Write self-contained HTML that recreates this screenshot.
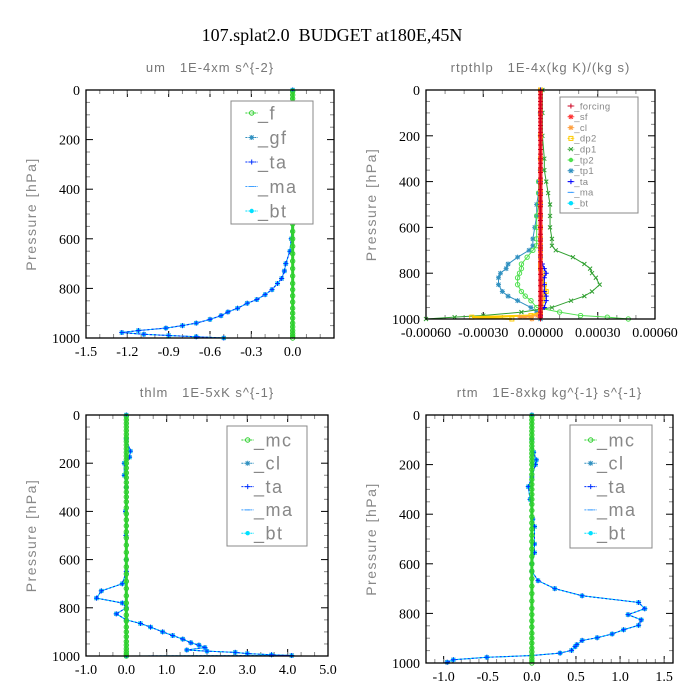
<!DOCTYPE html>
<html><head><meta charset="utf-8">
<style>
body{margin:0;background:#fff;}
svg{display:block;}
text{white-space:pre;}
.tk{font-family:"Liberation Serif",serif;font-size:14px;fill:#000;}
.pt{font-family:"Liberation Sans",sans-serif;font-size:13px;fill:#777;letter-spacing:1px;}
.yl{font-family:"Liberation Sans",sans-serif;font-size:14px;fill:#888;letter-spacing:1.5px;}
</style></head>
<body>
<svg id="chart" width="700" height="700" viewBox="0 0 700 700">
<text x="332" y="41" text-anchor="middle" font-family="Liberation Serif,serif" font-size="18" xml:space="preserve">107.splat2.0  BUDGET at180E,45N</text>
</svg>
<script>
// ---- shared pressure levels for near-zero series ----
const levels=[5,20,35,50,65,80,95,110,125,140,155,170,185,200,220,240,260,280,300,320,340,360,385,410,435,460,485,510,540,570,600,630,660,690,720,750,780,805,830,855,880,900,920,940,955,970,982,992,1000];

// ---- panel 1: um ----
const umP=[0,100,150,180,200,220,250,300,400,500,600,650,700,730,760,780,805,825,845,860,880,895,910,925,940,950,960,970,978,985,990,995,1000];
const umV=[0,0,-0.01,-0.05,-0.04,0,0.01,0,0,0,-0.01,-0.02,-0.05,-0.06,-0.08,-0.11,-0.15,-0.2,-0.26,-0.33,-0.4,-0.47,-0.52,-0.6,-0.7,-0.8,-0.92,-1.12,-1.24,-1.08,-0.9,-0.7,-0.5];
const umXTicks=["-1.5","-1.2","-0.9","-0.6","-0.3","0.0"];
const umXVals=[-1.5,-1.2,-0.9,-0.6,-0.3,0.0];

// ---- panel 2: rtpthlp ----
const rpP=[0,100,200,300,350,400,450,500,550,600,650,680,700,730,760,780,800,820,850,880,900,920,950,970,985,992,1000];
const dp1V=[0.00001,0.00001,0.00001,0.00002,0.00002,0.00003,0.00004,0.00005,0.00005,0.00005,0.00006,0.00006,0.00008,0.00017,0.00023,0.00026,0.00027,0.00029,0.00031,0.00027,0.00023,0.00016,0.00006,-0.0001,-0.0003,-0.00045,-0.0006];
const tp2V=[0,0,0,0,0,-0.00001,-0.00001,-0.00001,-0.00002,-0.00002,-0.00002,-0.00002,-0.00004,-0.00007,-0.0001,-0.0001,-0.00011,-0.00012,-0.00012,-0.0001,-0.00008,-0.00005,-0.00002,0.0001,0.00021,0.00035,0.00046];
const tp1V=[0,0,0,0,0,-0.00001,-0.00001,-0.00002,-0.00002,-0.00003,-0.00004,-0.00004,-0.00006,-0.00012,-0.00017,-0.00018,-0.00021,-0.00022,-0.00022,-0.0002,-0.00017,-0.00012,-0.00005,-0.00002,0,0,0];
const dp2V=[0,0,0,0,0,0,0,0,0,0,0,0,0,0,0,0,0.00001,0.00001,0.00002,0.00003,0.00002,0.00001,0.00001,0,-0.00005,-0.00036,-0.00015];
const taV=[0,0,0,0,0,0,0,0,0,0,0,0,0,0,0.00001,0.00002,0.00003,0.00002,0.00002,0.00002,0.00003,0.00003,0.00002,0,0,0,0];
const rpXTicks=["-0.00060","-0.00030","0.00000","0.00030","0.00060"];
const rpXVals=[-0.0006,-0.0003,0,0.0003,0.0006];

// ---- panel 3: thlm ----
const thP=[0,100,150,175,200,250,300,400,500,600,650,700,730,760,780,800,825,850,865,880,900,915,930,945,955,965,975,980,985,990,995,998,1000];
const thV=[0,0,0.1,0.08,-0.05,-0.05,0,-0.02,-0.01,0,0,-0.1,-0.62,-0.74,-0.1,0.0,-0.25,0,0.35,0.6,0.9,1.15,1.4,1.6,1.8,1.95,1.5,2.0,2.7,3.0,3.6,4.1,0.0];
const thXTicks=["-1.0","0.0","1.0","2.0","3.0","4.0","5.0"];
const thXVals=[-1,0,1,2,3,4,5];

// ---- panel 4: rtm ----
const rtP=[0,100,150,181,200,250,289,340,420,450,520,555,600,630,668,700,729,756,781,805,826,848,866,883,898,909,926,934,949,960,970,977,987,997];
const rtV=[0,0,0.02,0.05,0.04,0,-0.04,-0.02,0.01,0.03,0.03,0.03,0,0,0.07,0.26,0.57,1.21,1.28,1.09,1.24,1.21,1.04,0.91,0.74,0.57,0.51,0.49,0.45,0.32,0,-0.51,-0.89,-0.96];
const rtXTicks=["-1.0","-0.5","0.0","0.5","1.0","1.5"];
const rtXVals=[-1,-0.5,0,0.5,1,1.5];

const NS='http://www.w3.org/2000/svg';
const svg=document.getElementById('chart');
function mk(tag,attrs,parent){const e=document.createElementNS(NS,tag);for(const k in attrs)e.setAttribute(k,attrs[k]);(parent||svg).appendChild(e);return e;}

function panel(cfg){
  const g=mk('g',{});
  
  
  const sx=v=>cfg.x0+(v-cfg.xmin)/(cfg.xmax-cfg.xmin)*(cfg.x1-cfg.x0);
  const sy=p=>cfg.y0+p/1000*(cfg.y1-cfg.y0);
  cfg.sx=sx;cfg.sy=sy;cfg.g=g;
  const t=mk('text',{x:(cfg.x0+cfg.x1)/2,y:cfg.y0-18,'text-anchor':'middle',class:'pt','xml:space':'preserve'},g);
  t.textContent=cfg.title;
  
  
  const yl=mk('text',{x:0,y:0,'text-anchor':'middle',class:'yl',transform:`translate(${cfg.x0-50},${(cfg.y0+cfg.y1)/2}) rotate(-90)`},g);
  yl.textContent='Pressure [hPa]';
  
  
  for(let p=0;p<=1000;p+=50){
    const y=sy(p),major=p%200==0,L=major?7:4;
    mk('line',{x1:cfg.x0,x2:cfg.x0+L,y1:y,y2:y,stroke:major?'#000':'#888','stroke-width':1},g);
    mk('line',{x1:cfg.x1,x2:cfg.x1-L,y1:y,y2:y,stroke:major?'#000':'#888','stroke-width':1},g);
    if(major){const tx=mk('text',{x:cfg.x0-6,y:y+5,'text-anchor':'end',class:'tk'},g);tx.textContent=p;
      }
  }
  const step=cfg.xVals[1]-cfg.xVals[0];
  for(let i=0;i<cfg.xVals.length;i++){
    const x=sx(cfg.xVals[i]);
    mk('line',{x1:x,x2:x,y1:cfg.y1,y2:cfg.y1-7,stroke:'#000'},g);
    mk('line',{x1:x,x2:x,y1:cfg.y0,y2:cfg.y0+7,stroke:'#000'},g);
    const tx=mk('text',{x:x,y:cfg.y1+18,'text-anchor':'middle',class:'tk'},g);tx.textContent=cfg.xTicks[i];
    
  }
  for(let v=cfg.xmin;v<=cfg.xmax+1e-12;v+=step/cfg.minor){
    const x=sx(v);if(x<cfg.x0-0.5||x>cfg.x1+0.5)continue;
    mk('line',{x1:x,x2:x,y1:cfg.y1,y2:cfg.y1-4,stroke:'#888'},g);
    mk('line',{x1:x,x2:x,y1:cfg.y0,y2:cfg.y0+4,stroke:'#888'},g);
  }
  return cfg;
}
function frame(cfg){
  const r=mk('rect',{x:cfg.x0,y:cfg.y0,width:cfg.x1-cfg.x0,height:cfg.y1-cfg.y0,fill:'none',stroke:'#000','stroke-width':1.3},cfg.g);
  
  
}
function marker(g,x,y,type,color){
  if(type=='o')mk('circle',{cx:x,cy:y,r:2.2,fill:'none',stroke:color,'stroke-width':1},g);
  else if(type=='dot')mk('circle',{cx:x,cy:y,r:2.2,fill:color},g);
  else if(type=='s')mk('rect',{x:x-2,y:y-2,width:4,height:4,fill:'none',stroke:color},g);
  else if(type=='x'){mk('path',{d:`M${x-2} ${y-2}L${x+2} ${y+2}M${x-2} ${y+2}L${x+2} ${y-2}`,stroke:color},g);}
  else if(type=='*'){mk('path',{d:`M${x-2.5} ${y}H${x+2.5}M${x} ${y-2.5}V${y+2.5}M${x-2} ${y-2}L${x+2} ${y+2}M${x-2} ${y+2}L${x+2} ${y-2}`,stroke:color},g);}
  else if(type=='-'){mk('path',{d:`M${x-2.5} ${y}H${x+2.5}`,stroke:color},g);}
  else {mk('path',{d:`M${x-2.5} ${y}H${x+2.5}M${x} ${y-2.5}V${y+2.5}`,stroke:color},g);}
}
function series(cfg,name,P,V,color,type,width,dash){
  const g=mk('g',{},cfg.g);
  
  
  let d='';
  for(let i=0;i<P.length;i++)d+=(i?'L':'M')+cfg.sx(V[i]).toFixed(2)+' '+cfg.sy(P[i]).toFixed(2);
  mk('path',{d:d,fill:'none',stroke:color,'stroke-width':width||1,'stroke-dasharray':dash||'none'},g);
  if(type)for(let i=0;i<P.length;i++)marker(g,cfg.sx(V[i]),cfg.sy(P[i]),type,color);
}
function legend(cfg,x,y,w,h,entries,fs,dy,first){
  const g=mk('g',{},cfg.g);
  
  
  mk('rect',{x:x,y:y,width:w,height:h,fill:'#fff',stroke:'#888','stroke-width':1},g);
  entries.forEach((e,i)=>{
    const ey=first+i*dy;
    const eg=mk('g',{},g);
    
    
    mk('line',{x1:x+fs*0.8,x2:x+fs*1.5,y1:ey,y2:ey,stroke:e[1],'stroke-dasharray':'2 1'},eg);
    marker(eg,x+fs*1.15,ey,e[2],e[1]);
    const t=mk('text',{x:x+fs*1.5,y:ey+fs*0.35,'font-family':'Liberation Sans,sans-serif','font-size':fs,fill:'#888','letter-spacing':fs>12?1.5:0.3},eg);
    t.textContent=e[0];
  });
}
const zeros=levels.map(()=>0);

// Panel 1
const c1=panel({name:'um',title:'um   1E-4xm s^{-2}',x0:86,x1:334,y0:90,y1:338,xmin:-1.5,xmax:0.3,xVals:umXVals,xTicks:umXTicks,minor:3});
series(c1,'-gf',umP,umV,'#3090c0','*',1);
series(c1,'-bt',umP,umV,'#00d8ff','dot',1);
series(c1,'-ma',umP,umV,'#40a0ff',null,1.2,'3 2');
series(c1,'-ta',umP,umV,'#0030ff','+',1,'2 2');
series(c1,'-f',levels,zeros,'#30d030','o',3);
frame(c1);
legend(c1,231,101,82,123,[['_f','#30d030','o'],['_gf','#3090c0','*'],['_ta','#0030ff','+'],['_ma','#40a0ff','-'],['_bt','#00e0ff','dot']],18,24.5,113);

// Panel 2
const c2=panel({name:'rtpthlp',title:'rtpthlp   1E-4x(kg K)/(kg s)',x0:426,x1:655,y0:90,y1:319,xmin:-0.0006,xmax:0.0006,xVals:rpXVals,xTicks:rpXTicks,minor:3});
series(c2,'-tp1',rpP,tp1V,'#3090c0','*',1);
series(c2,'-tp2',rpP,tp2V,'#50e050','o',1);
series(c2,'-dp1',rpP,dp1V,'#30a030','x',1);
series(c2,'-dp2',rpP,dp2V,'#ffcc00','s',2);
series(c2,'-cl',rpP,dp2V.map(v=>v*0.3),'#ffa040','*',1.5);
series(c2,'-ta',rpP,taV,'#0000ff','+',1);
series(c2,'-sf',levels,zeros,'#ff3030',null,4);
series(c2,'-forcing',levels,zeros,'#cc0020','+',1.5);
frame(c2);
legend(c2,560,97,78,116,[['_forcing','#cc0020','+'],['_sf','#ff3030','*'],['_cl','#ffa040','*'],['_dp2','#ffcc00','s'],['_dp1','#30a030','x'],['_tp2','#50e050','dot'],['_tp1','#3090c0','*'],['_ta','#0000ff','+'],['_ma','#40a0ff','-'],['_bt','#00e0ff','dot']],9.5,10.8,106);

// Panel 3
const c3=panel({name:'thlm',title:'thlm   1E-5xK s^{-1}',x0:86,x1:328,y0:415,y1:656,xmin:-1,xmax:5,xVals:thXVals,xTicks:thXTicks,minor:3});
series(c3,'-cl',thP,thV,'#3090c0','*',1);
series(c3,'-bt',thP,thV,'#00d8ff','dot',1);
series(c3,'-ta',thP,thV,'#0030ff','+',1,'2 2');
series(c3,'-mc',levels,zeros,'#30d030','o',3);
frame(c3);
legend(c3,227,426,80,120,[['_mc','#30d030','o'],['_cl','#3090c0','*'],['_ta','#0030ff','+'],['_ma','#40a0ff','-'],['_bt','#00e0ff','dot']],18,23.3,440);

// Panel 4
const c4=panel({name:'rtm',title:'rtm   1E-8xkg kg^{-1} s^{-1}',x0:426,x1:673,y0:415,y1:663,xmin:-1.2,xmax:1.6,xVals:rtXVals,xTicks:rtXTicks,minor:5});
series(c4,'-cl',rtP,rtV,'#3090c0','*',1);
series(c4,'-bt',rtP,rtV,'#00d8ff','dot',1);
series(c4,'-ta',rtP,rtV,'#0030ff','+',1,'2 2');
series(c4,'-mc',levels,zeros,'#30d030','o',3);
frame(c4);
legend(c4,570,425,82,123,[['_mc','#30d030','o'],['_cl','#3090c0','*'],['_ta','#0030ff','+'],['_ma','#40a0ff','-'],['_bt','#00e0ff','dot']],18,23.3,440);
</script>
</body></html>
